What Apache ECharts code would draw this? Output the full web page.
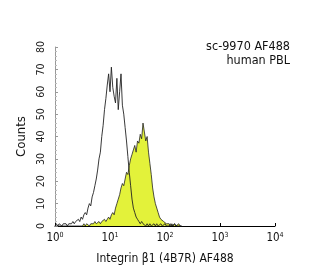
<!DOCTYPE html>
<html>
<head>
<meta charset="utf-8">
<script src="https://cdn.jsdelivr.net/npm/echarts@6/dist/echarts.min.js"></script>
<style>html,body{margin:0;padding:0;background:#fff;}#c{width:320px;height:275px;}</style>
</head>
<body>
<div id="c"></div>
<script>
// log10 fluorescence channel positions (decades)
var logX = [0,0.025,0.05,0.075,0.1,0.125,0.15,0.175,0.2,0.225,0.25,0.275,0.3,0.325,0.35,0.375,0.4,0.425,0.45,0.475,
0.5,0.525,0.55,0.575,0.6,0.625,0.65,0.675,0.7,0.725,0.75,0.775,0.8,0.825,0.85,0.875,0.9,0.925,0.95,0.975,
1,1.025,1.05,1.075,1.1,1.125,1.15,1.175,1.2,1.225,1.25,1.275,1.3,1.325,1.35,1.375,1.4,1.425,1.45,1.475,
1.5,1.525,1.55,1.575,1.6,1.625,1.65,1.675,1.7,1.725,1.75,1.775,1.8,1.825,1.85,1.875,1.9,1.925,1.95,1.975,
2,2.025,2.05,2.075,2.1,2.125,2.15,2.175,2.2,2.225,2.25,2.275,2.3];
var controlCounts = [0,1,0,1,1,0,1,1,1,0,1,1,1,2,1,2,2,3,2,4,
3,5,6,5,8,10,9,13,15,18,21,25,30,33,40,45,52,57,63,68,
60,71,62,58,55,66,52,60,68,54,50,44,38,31,24,18,12,8,6,4,
3,2,1,2,1,1,0,1,0,1,0,0,1,0,1,0,0,1,0,
0,1,0,0,0,1,0,0,1,0,0,0,0,0];
var sampleCounts = [0,0,0,0,0,0,0,0,0,0,0,0,0,0,0,0,0,0,0,0,
0,1,0,1,1,0,1,1,1,2,1,1,2,1,2,2,3,2,3,4,
3,5,6,5,8,10,12,14,17,19,18,21,24,23,27,30,32,34,36,33,
38,37,41,39,46,42,38,40,33,28,23,17,13,10,8,6,4,3,3,2,
2,1,1,1,0,1,0,1,0,0,1,0,0];
var xTicks = [0,1,2,3,4];
var yTicks = [0,10,20,30,40,50,60,70,80];
var titleLines = ['sc-9970 AF488','human PBL'];
var xTitle = 'Integrin \u03b21 (4B7R) AF488';
var yTitle = 'Counts';

function pairs(ys){ return logX.map(function(x,i){ return [x, ys[i]]; }); }
var FONT = "'Liberation Sans Narrow','DejaVu Sans Condensed','Liberation Sans',sans-serif";
var chart = echarts.init(document.getElementById('c'), null, {renderer:'canvas'});
chart.setOption({
  animation:false,
  backgroundColor:'#fff',
  graphic:[
    {type:'text', right:30, top:40, style:{text:titleLines.join('\n'), textAlign:'right', font:'12.5px '+FONT, fill:'#111', lineHeight:14}}
  ],
  grid:{left:55, right:45, top:47, bottom:49},
  xAxis:{
    type:'value', min:xTicks[0], max:xTicks[xTicks.length-1], interval:1,
    name:xTitle, nameLocation:'middle', nameGap:27,
    nameTextStyle:{fontFamily:FONT, fontSize:12, color:'#111'},
    axisLine:{lineStyle:{color:'#000', width:1}},
    axisTick:{show:true, length:3, inside:true, lineStyle:{color:'#000'}},
    splitLine:{show:false},
    axisLabel:{margin:6, formatter:function(v){return '{b|10}{s|'+v+'}';},
      rich:{b:{fontFamily:FONT, fontSize:11.5, color:'#111'}, s:{fontFamily:FONT, fontSize:7, color:'#111', verticalAlign:'top', padding:[0,0,6,0]}}}
  },
  yAxis:{
    type:'value', min:yTicks[0], max:yTicks[yTicks.length-1], interval:10,
    name:yTitle, nameLocation:'middle', nameGap:12, nameRotate:90,
    nameTextStyle:{fontFamily:FONT, fontSize:13, color:'#111'},
    axisLine:{show:true, lineStyle:{color:'#999', width:1}},
    axisTick:{show:true, length:3, inside:true, lineStyle:{color:'#999'}},
    minorTick:{show:true, splitNumber:5, length:2, lineStyle:{color:'#bbb'}},
    splitLine:{show:false},
    axisLabel:{rotate:90, margin:8, fontFamily:FONT, fontSize:10.5, color:'#222'}
  },
  series:[
    {type:'line', data:pairs(sampleCounts), symbol:'none', z:2,
     lineStyle:{color:'#222', width:0.8}, areaStyle:{color:'#e3f23a', opacity:1}},
    {type:'line', data:pairs(controlCounts), symbol:'none', z:3,
     lineStyle:{color:'#222', width:0.9}}
  ]
});
</script>
</body>
</html>
